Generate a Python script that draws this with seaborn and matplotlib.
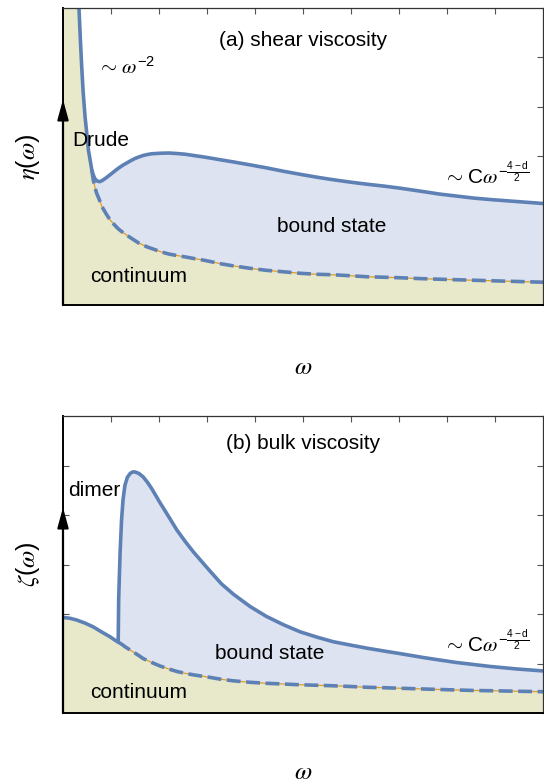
import matplotlib
matplotlib.use("Agg")
import numpy as np
import pandas as pd
import matplotlib.pyplot as plt
import seaborn as sns

# (a) shear viscosity (arb. units)
omega_a = [0.00, 0.28, 0.33, 0.36, 0.39, 0.42, 0.46, 0.50, 0.53, 0.57, 0.60, 0.63,
           0.66, 0.70, 0.76, 0.81, 0.90, 0.98, 1.07, 1.15, 1.24, 1.33, 1.42, 1.50,
           1.58, 1.67, 1.76, 1.85, 2.02, 2.20, 2.37, 2.55, 2.72, 2.90, 3.06, 3.30,
           3.55, 3.90, 4.24, 4.60, 4.94, 5.30, 5.63, 6.00, 6.33, 6.70, 7.02, 7.51,
           7.85, 8.20, 8.55, 8.90, 9.45, 10.0]
continuum_a = [60.0, 7.50, 6.06, 5.40, 4.81, 4.30, 3.80, 3.42, 3.13, 2.90, 2.73, 2.53,
               2.40, 2.26, 2.12, 1.99, 1.84, 1.72, 1.62, 1.54, 1.47, 1.41, 1.35, 1.30,
               1.25, 1.21, 1.17, 1.14, 1.08, 1.03, 1.00, 0.97, 0.94, 0.91, 0.88, 0.83,
               0.79, 0.74, 0.70, 0.67, 0.64, 0.62, 0.61, 0.59, 0.57, 0.56, 0.55, 0.53,
               0.52, 0.51, 0.50, 0.49, 0.475, 0.46]
total_a = [60.0, 7.50, 6.06, 5.40, 4.81, 4.30, 3.80, 3.42, 3.13, 2.90, 2.73, 2.63,
           2.56, 2.51, 2.49, 2.51, 2.57, 2.63, 2.70, 2.76, 2.82, 2.87, 2.92, 2.96,
           2.99, 3.02, 3.04, 3.055, 3.065, 3.07, 3.06, 3.045, 3.02, 2.995, 2.97, 2.93,
           2.89, 2.83, 2.77, 2.70, 2.64, 2.58, 2.53, 2.48, 2.44, 2.40, 2.36, 2.29,
           2.24, 2.20, 2.16, 2.13, 2.09, 2.05]
threshold_a = 0.60

# (b) bulk viscosity
omega_b = [0.00, 0.14, 0.28, 0.45, 0.63, 0.80, 0.98, 1.07, 1.15, 1.16, 1.17, 1.19,
           1.22, 1.25, 1.29, 1.34, 1.40, 1.45, 1.50, 1.58, 1.67, 1.76, 1.85, 2.02,
           2.20, 2.37, 2.55, 2.72, 3.06, 3.30, 3.55, 3.90, 4.24, 4.60, 4.94, 5.30,
           5.63, 6.00, 6.33, 6.70, 7.02, 7.51, 7.85, 8.20, 8.55, 8.90, 9.45, 10.0]
continuum_b = [1.93, 1.915, 1.88, 1.82, 1.74, 1.64, 1.54, 1.48, 1.43, 1.425, 1.42, 1.41,
               1.39, 1.37, 1.34, 1.31, 1.27, 1.24, 1.21, 1.16, 1.10, 1.06, 1.02, 0.95,
               0.89, 0.84, 0.80, 0.77, 0.72, 0.68, 0.65, 0.62, 0.60, 0.585, 0.57, 0.56,
               0.55, 0.535, 0.52, 0.51, 0.50, 0.485, 0.475, 0.465, 0.455, 0.45, 0.44, 0.43]
total_b = [1.93, 1.915, 1.88, 1.82, 1.74, 1.64, 1.54, 1.48, 1.43, 2.30, 2.62, 3.25,
           3.90, 4.30, 4.60, 4.76, 4.84, 4.87, 4.87, 4.84, 4.77, 4.66, 4.53, 4.25,
           3.97, 3.70, 3.46, 3.25, 2.87, 2.61, 2.40, 2.15, 1.95, 1.78, 1.64, 1.53,
           1.44, 1.37, 1.31, 1.25, 1.20, 1.12, 1.07, 1.02, 0.98, 0.94, 0.89, 0.85]
threshold_b = 1.15

BLUE = "#5E81B5"
ORANGE = "#E19C24"
BEIGE = "#E8E8CB"
LIGHTBLUE = "#DDE3F0"

sns.set_style("ticks")
plt.rcParams["font.family"] = ["Liberation Sans", "DejaVu Sans"]
plt.rcParams["text.color"] = "black"
plt.rcParams["axes.labelcolor"] = "black"
plt.rcParams["mathtext.fontset"] = "custom"
plt.rcParams["mathtext.rm"] = "Liberation Sans"
plt.rcParams["mathtext.sf"] = "Liberation Sans"
plt.rcParams["mathtext.it"] = "STIXGeneral:italic"
plt.rcParams["lines.scale_dashes"] = False

fig = plt.figure(figsize=(5.44, 7.83), dpi=100)
ax_a = fig.add_axes([0.1158, 0.6105, 0.8824, 0.3793])
ax_b = fig.add_axes([0.1158, 0.0894, 0.8824, 0.3793])


def draw_panel(ax, omega, continuum, total, threshold, ylabel, xlabel_y):
    df = pd.DataFrame({"omega": omega, "continuum": continuum, "total": total})
    ax.fill_between(df["omega"], 0, df["continuum"], color=BEIGE, lw=0)
    ax.fill_between(df["omega"], df["continuum"], df["total"], color=LIGHTBLUE, lw=0)

    tail = df[df["omega"] >= threshold]
    sns.lineplot(data=tail, x="omega", y="continuum", ax=ax, color=ORANGE, lw=0.9,
                 sort=False, estimator=None)
    sns.lineplot(data=tail, x="omega", y="continuum", ax=ax, color=BLUE, lw=2.6,
                 sort=False, estimator=None)
    ax.lines[-1].set_dashes([10, 4])
    sns.lineplot(data=df, x="omega", y="total", ax=ax, color=BLUE, lw=2.6,
                 sort=False, estimator=None)
    for ln in ax.lines:
        ln.set_solid_joinstyle("round")

    ax.set_xlim(0, 10)
    ax.set_ylim(0, 6)
    ax.set_xticks(np.arange(1, 10))
    ax.set_yticks(np.arange(1, 6))
    ax.tick_params(direction="in", length=4, width=0.8, color="#555555",
                   top=True, right=True, labelbottom=False, labelleft=False)
    for side in ["top", "right"]:
        ax.spines[side].set_color("#333333")
        ax.spines[side].set_linewidth(0.9)
    for side in ["left", "bottom"]:
        ax.spines[side].set_color("black")
        ax.spines[side].set_linewidth(1.4)

    ax.annotate("", xy=(0, 4.15), xytext=(0, 0), annotation_clip=False,
                arrowprops=dict(arrowstyle="-|>,head_length=0.8,head_width=0.22",
                                color="black", lw=1.6, mutation_scale=15,
                                shrinkA=0, shrinkB=0))
    ax.set_xlabel(r"$\omega$", fontsize=18)
    ax.set_ylabel(ylabel, fontsize=18)
    ax.xaxis.set_label_coords(0.5, xlabel_y)
    ax.xaxis.label.set_va("center")
    ax.yaxis.set_label_coords(-0.073, 0.5)
    ax.yaxis.label.set_va("center")


draw_panel(ax_a, omega_a, continuum_a, total_a, threshold_a, r"$\eta(\omega)$", -0.208)
draw_panel(ax_b, omega_b, continuum_b, total_b, threshold_b, r"$\zeta(\omega)$", -0.200)

tail_label = r"$\sim\,\mathrm{C}\omega^{-\frac{\mathrm{4-d}}{\mathrm{2}}}$"
fs = 15

ax_a.text(5.0, 5.35, "(a) shear viscosity", fontsize=fs, ha="center", va="center")
ax_a.text(0.71, 4.81, r"$\sim\,\omega^{-2}$", fontsize=fs, ha="left", va="center")
ax_a.text(0.19, 3.33, "Drude", fontsize=fs, ha="left", va="center")
ax_a.text(4.46, 1.58, "bound state", fontsize=fs, ha="left", va="center")
ax_a.text(7.92, 2.63, tail_label, fontsize=fs, ha="left", va="center")
ax_a.text(0.56, 0.57, "continuum", fontsize=fs, ha="left", va="center")

ax_b.text(5.0, 5.45, "(b) bulk viscosity", fontsize=fs, ha="center", va="center")
ax_b.text(0.10, 4.50, "dimer", fontsize=fs, ha="left", va="center")
ax_b.text(3.17, 1.21, "bound state", fontsize=fs, ha="left", va="center")
ax_b.text(7.92, 1.41, tail_label, fontsize=fs, ha="left", va="center")
ax_b.text(0.56, 0.42, "continuum", fontsize=fs, ha="left", va="center")

fig.savefig("out.png", dpi=100)
